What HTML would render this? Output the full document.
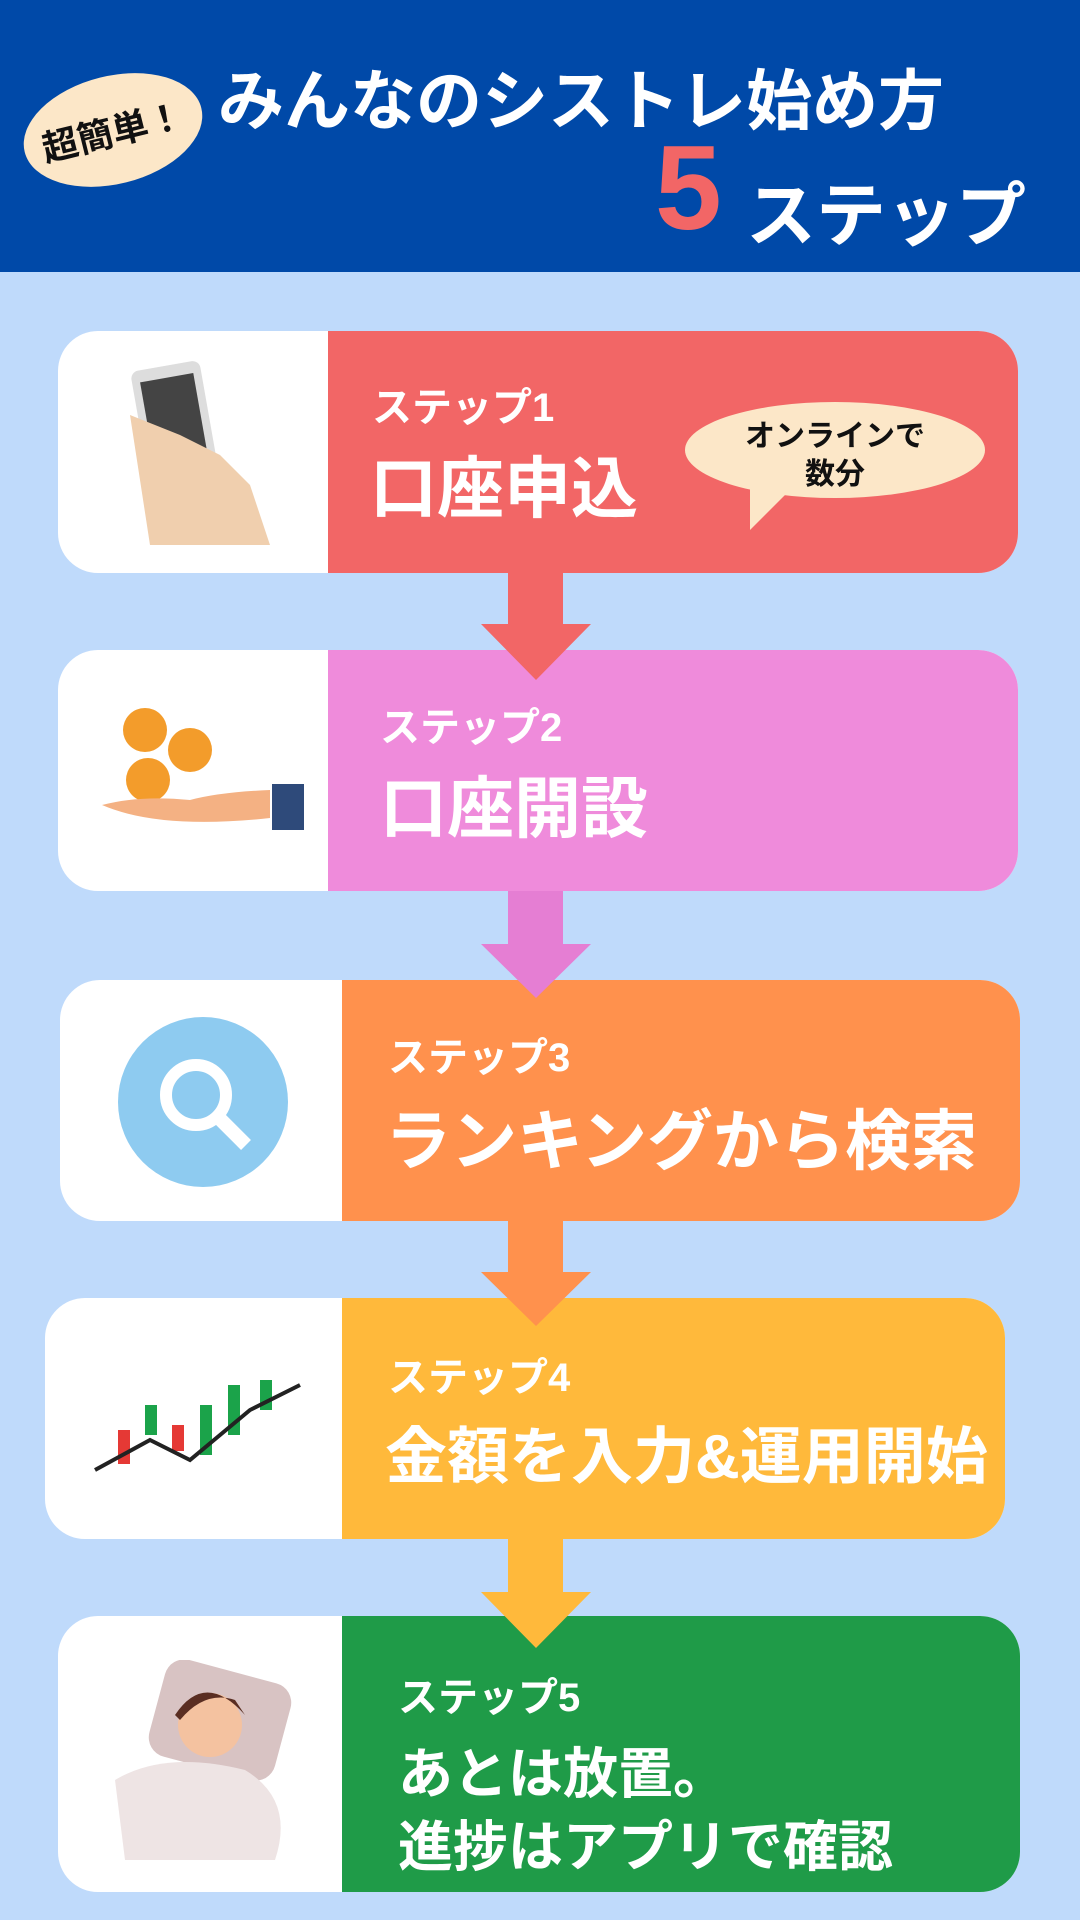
<!DOCTYPE html>
<html><head><meta charset="utf-8"><style>
*{margin:0;padding:0;box-sizing:border-box}
body{width:1080px;height:1920px;background:#BFDAFB;position:relative;overflow:hidden;font-family:"Liberation Sans","Noto Sans CJK JP",sans-serif;font-weight:700}
.hdr{position:absolute;left:0;top:0;width:1080px;height:272px;background:#0049A8}
.abs{position:absolute}
.card{position:absolute;border-radius:40px;overflow:hidden;background:#fff}
.card .c{position:absolute;top:0;bottom:0;right:0}
.t{position:absolute;color:#fff;white-space:nowrap}
.s{font-size:40px}
.m{font-size:67px}
</style></head><body>
<div class="hdr"></div>
<div class="abs" style="left:22px;top:76px;width:182px;height:108px;background:#FCE7C8;border-radius:50%;transform:rotate(-14deg)"></div>
<div class="abs" style="left:40px;top:104px;font-size:36px;color:#111;transform:rotate(-14deg)">超簡単！</div>
<div class="t" style="left:218px;top:48px;font-size:66px">みんなのシストレ始め方</div>
<div class="t" style="left:655px;top:128px;font-size:120px;color:#F26666;line-height:1">5</div>
<div class="t" style="left:746px;top:160px;font-size:70px">ステップ</div>

<div class="card" style="left:58px;top:331px;width:960px;height:242px"><div class="c" style="left:270px;background:#F26666"></div></div>
<div class="card" style="left:58px;top:650px;width:960px;height:241px"><div class="c" style="left:270px;background:#EF8BDB"></div></div>
<div class="card" style="left:60px;top:980px;width:960px;height:241px"><div class="c" style="left:282px;background:#FF914D"></div></div>
<div class="card" style="left:45px;top:1298px;width:960px;height:241px"><div class="c" style="left:297px;background:#FFB93B"></div></div>
<div class="card" style="left:58px;top:1616px;width:962px;height:276px"><div class="c" style="left:284px;background:#1F9B48"></div></div>

<!-- arrows -->
<svg class="abs" style="left:0;top:0" width="1080" height="1920">
<polygon points="508,573 563,573 563,624 591,624 536,680 481,624 508,624" fill="#F26666"/>
<polygon points="508,891 563,891 563,944 591,944 536,998 481,944 508,944" fill="#E57ED3"/>
<polygon points="508,1221 563,1221 563,1272 591,1272 536,1326 481,1272 508,1272" fill="#FF914D"/>
<polygon points="508,1539 563,1539 563,1592 591,1592 536,1648 481,1592 508,1592" fill="#FFB93B"/>
</svg>

<!-- icons -->
<svg class="abs" style="left:120px;top:355px" width="170" height="190">
<rect x="20" y="10" width="70" height="120" rx="8" fill="#ddd" transform="rotate(-10 55 70)"/>
<rect x="28" y="22" width="54" height="92" fill="#444" transform="rotate(-10 55 70)"/>
<path d="M10 60 L30 190 L90 190 L150 190 L130 130 L100 100 L60 80 Z" fill="#F0CFAE"/>
</svg>
<svg class="abs" style="left:100px;top:700px" width="210" height="145">
<circle cx="45" cy="30" r="22" fill="#F39C2B"/><circle cx="90" cy="50" r="22" fill="#F39C2B"/><circle cx="48" cy="80" r="22" fill="#F39C2B"/>
<path d="M2 105 Q60 130 170 118 L170 90 Q120 92 90 100 Q40 95 2 105Z" fill="#F4B183"/>
<rect x="172" y="84" width="32" height="46" fill="#2E4A7A"/>
</svg>
<svg class="abs" style="left:116px;top:1015px" width="175" height="175">
<circle cx="87" cy="87" r="85" fill="#8ECBF0"/><circle cx="80" cy="80" r="30" fill="none" stroke="#fff" stroke-width="12"/><line x1="102" y1="102" x2="130" y2="130" stroke="#fff" stroke-width="14"/>
</svg>
<svg class="abs" style="left:90px;top:1350px" width="220" height="150">
<rect x="28" y="80" width="12" height="34" fill="#E53935"/><rect x="55" y="55" width="12" height="30" fill="#1BA34A"/><rect x="82" y="75" width="12" height="26" fill="#E53935"/><rect x="110" y="55" width="12" height="50" fill="#1BA34A"/><rect x="138" y="35" width="12" height="50" fill="#1BA34A"/><rect x="170" y="30" width="12" height="30" fill="#1BA34A"/>
<polyline points="5,120 60,90 100,110 160,60 210,35" fill="none" stroke="#222" stroke-width="4"/>
</svg>
<svg class="abs" style="left:105px;top:1660px" width="200" height="200">
<rect x="50" y="10" width="130" height="100" rx="20" fill="#D8C3C3" transform="rotate(15 115 60)"/>
<circle cx="105" cy="65" r="32" fill="#F4C2A0"/><path d="M70 55 Q100 10 140 55 L130 40 Q100 30 75 60Z" fill="#5A2E22"/>
<path d="M10 120 Q60 90 140 110 Q190 140 170 200 L20 200Z" fill="#EEE4E4"/>
</svg>

<!-- bubble -->
<svg class="abs" style="left:680px;top:400px" width="320" height="135">
<ellipse cx="155" cy="50" rx="150" ry="48" fill="#FCE7C8"/><polygon points="70,85 110,90 70,130" fill="#FCE7C8"/>
</svg>
<div class="abs" style="left:720px;top:418px;width:230px;text-align:center;font-size:30px;line-height:38px;color:#111">オンラインで<br>数分</div>

<div class="t s" style="left:372px;top:375px">ステップ1</div>
<div class="t m" style="left:370px;top:435px">口座申込</div>
<div class="t s" style="left:380px;top:695px">ステップ2</div>
<div class="t m" style="left:380px;top:755px">口座開設</div>
<div class="t s" style="left:388px;top:1025px">ステップ3</div>
<div class="t" style="left:385px;top:1088px;font-size:66px">ランキングから検索</div>
<div class="t s" style="left:388px;top:1345px">ステップ4</div>
<div class="t" style="left:385px;top:1406px;font-size:62px">金額を入力&amp;運用開始</div>
<div class="t s" style="left:398px;top:1665px">ステップ5</div>
<div class="t" style="left:398px;top:1738px;font-size:55px;line-height:73px">あとは放置。<br>進捗はアプリで確認</div>
</body></html>
